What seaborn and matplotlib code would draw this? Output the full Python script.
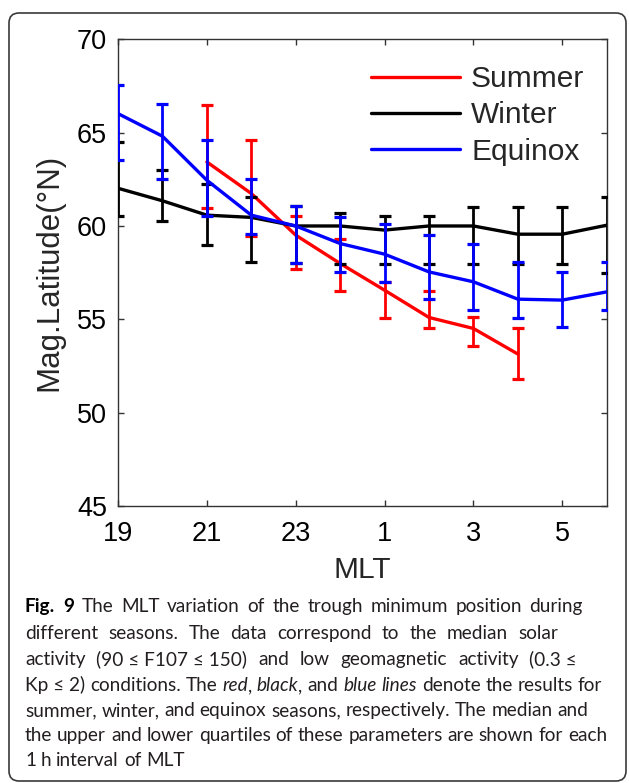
import numpy as np
import pandas as pd
import seaborn as sns
import matplotlib
matplotlib.use("Agg")
import matplotlib.pyplot as plt
from matplotlib.transforms import IdentityTransform
from matplotlib.patches import FancyBboxPatch
from matplotlib.lines import Line2D

nan = np.nan

# ---------------- data ----------------
mlt_hours = [19, 20, 21, 22, 23, 0, 1, 2, 3, 4, 5, 6]
tick_hours = [19, 21, 23, 1, 3, 5]
tick_labels = ["19", "21", "23", "1", "3", "5"]
seasons = ["Summer", "Winter", "Equinox"]
season_colors = ["#FF0000", "#000000", "#0000FF"]

summer_med = [nan, nan, 63.43, 61.74, 59.51, 57.99, 56.56, 55.10, 54.51, 53.14, nan, nan]
summer_q3 = [nan, nan, 66.47, 64.59, 60.54, 59.28, 57.00, 56.51, 55.10, 54.55, nan, nan]
summer_q1 = [nan, nan, 60.94, 59.45, 57.67, 56.51, 55.05, 54.55, 53.57, 51.78, nan, nan]

winter_med = [62.02, 61.35, 60.58, 60.46, 60.00, 60.00, 59.78, 60.00, 60.00, 59.56, 59.56, 60.04]
winter_q3 = [64.50, 62.99, 62.27, 61.53, 61.06, 60.72, 60.54, 60.54, 60.99, 60.99, 60.99, 61.54]
winter_q1 = [60.54, 60.26, 58.97, 58.05, 58.02, 57.99, 57.99, 57.99, 57.99, 57.99, 57.99, 57.49]

equinox_med = [66.02, 64.81, 62.45, 60.58, 60.00, 59.06, 58.49, 57.54, 57.01, 56.08, 56.03, 56.47]
equinox_q3 = [67.54, 66.56, 64.63, 62.51, 61.06, 60.49, 60.08, 59.54, 59.01, 58.05, 57.54, 58.08]
equinox_q1 = [63.52, 62.49, 60.54, 59.56, 58.02, 57.51, 57.01, 56.07, 55.49, 55.05, 54.60, 55.49]

caption_lines = [
    [[("Fig.", "b")], [("9", "b")], [("The", "n")], [("MLT", "n")], [("variation", "n")], [("of", "n")],
     [("the", "n")], [("trough", "n")], [("minimum", "n")], [("position", "n")], [("during", "n")]],
    [[("different", "n")], [("seasons.", "n")], [("The", "n")], [("data", "n")], [("correspond", "n")],
     [("to", "n")], [("the", "n")], [("median", "n")], [("solar", "n")]],
    [[("activity", "n")], [("(90 \u2264 F107 \u2264 150)", "n")], [("and", "n")], [("low", "n")],
     [("geomagnetic", "n")], [("activity", "n")], [("(0.3 \u2264", "n")]],
    [[("Kp \u2264 2)", "n")], [("conditions.", "n")], [("The", "n")], [("red", "i"), (",", "n")],
     [("black", "i"), (",", "n")], [("and", "n")], [("blue", "i")], [("lines", "i")], [("denote", "n")],
     [("the", "n")], [("results", "n")], [("for", "n")]],
    [[("summer,", "n")], [("winter,", "n")], [("and", "n")], [("equinox", "n")], [("seasons,", "n")],
     [("respectively.", "n")], [("The", "n")], [("median", "n")], [("and", "n")]],
    [[("the", "n")], [("upper", "n")], [("and", "n")], [("lower", "n")], [("quartiles", "n")], [("of", "n")],
     [("these", "n")], [("parameters", "n")], [("are", "n")], [("shown", "n")], [("for", "n")], [("each", "n")]],
    [[("1", "n")], [("h", "n")], [("interval", "n")], [("of", "n")], [("MLT", "n")]],
]
caption_baselines = [612, 639, 665, 691, 716, 741, 766]
caption_right = [583, 558, 577, 602, 588, 607, None]

# ---------------- style ----------------
sns.set_style("ticks")
plt.rcParams["font.family"] = ["Liberation Sans", "DejaVu Sans"]

W, H = 629, 783
fig = plt.figure(figsize=(W / 100, H / 100), dpi=100)
ax = fig.add_axes([118 / W, 1 - 506 / H, (606.7 - 118) / W, (506 - 39.3) / H])

x_pos = [(h - 19) % 24 for h in mlt_hours]
frames = []
for name, med, q1, q3 in [("Summer", summer_med, summer_q1, summer_q3),
                          ("Winter", winter_med, winter_q1, winter_q3),
                          ("Equinox", equinox_med, equinox_q1, equinox_q3)]:
    frames.append(pd.DataFrame({"x": x_pos, "median": med, "q1": q1, "q3": q3, "season": name}))
df = pd.concat(frames, ignore_index=True)

for z, (name, col) in enumerate(zip(seasons, season_colors)):
    sub = df[df["season"] == name].dropna()
    sns.lineplot(data=sub, x="x", y="median", color=col, lw=2.4, estimator=None,
                 ax=ax, zorder=3 + z, clip_on=True)
    ax.errorbar(sub["x"], sub["median"],
                yerr=[sub["median"] - sub["q1"], sub["q3"] - sub["median"]],
                fmt="none", ecolor=col, elinewidth=2.0, capsize=4.3, capthick=2.3,
                zorder=3 + z)

ax.set_xlim(0, 11)
ax.set_ylim(45, 70)
ax.set_xticks([(h - 19) % 24 for h in tick_hours])
ax.set_xticklabels(tick_labels)
ax.set_yticks([45, 50, 55, 60, 65, 70])
ax.tick_params(direction="in", length=4, width=1, top=True, right=True,
               labelsize=19.5, colors="#333333", labelcolor="black")
ax.tick_params(axis="y", pad=8)
ax.tick_params(axis="x", pad=11)
for s in ax.spines.values():
    s.set_color("#333333")
    s.set_linewidth(1.0)
ax.set_xlabel("MLT", fontsize=21.5, labelpad=6)
ax.set_ylabel("Mag.Latitude(\u00b0N)", fontsize=22.5, labelpad=9)

handles = [Line2D([], [], color=c, lw=2.4) for c in season_colors]
ax.legend(handles, seasons, loc="upper left", bbox_to_anchor=((371 - 118) / 488.7, (506 - 65) / 466.7),
          frameon=False, fontsize=21.5, handlelength=2.98, handletextpad=0.37,
          borderpad=0, borderaxespad=0, labelspacing=0.28)

# ---------------- caption ----------------
cap_family = ["Lato", "DejaVu Sans"]
cap_color = "#231f20"
renderer = fig.canvas.get_renderer()


def make_text(txt, st, fs):
    return fig.text(0, 0, txt, transform=IdentityTransform(), fontsize=fs,
                    family=cap_family, color="black" if st == "b" else cap_color,
                    fontweight="bold" if st == "b" else "normal",
                    fontstyle="italic" if st == "i" else "normal",
                    ha="left", va="baseline")


def width_of(txt, st, fs):
    t = make_text(txt, st, fs)
    w = t.get_window_extent(renderer).width
    t.remove()
    return w


def space_w(fs):
    return width_of("x x", "n", fs) - width_of("xx", "n", fs)


# calibrate font size from the naturally spaced line 6
ref_line = caption_lines[5]
fs0 = 10
nat = sum(width_of(t, s, fs0) for w in ref_line for t, s in w) + (len(ref_line) - 1) * space_w(fs0)
cap_fs = fs0 * (607 - 25) / nat

x_left = 25
for words, yb, xr in zip(caption_lines, caption_baselines, caption_right):
    widths = [[width_of(t, s, cap_fs) for t, s in w] for w in words]
    total = sum(sum(w) for w in widths)
    if xr is None:
        gap = space_w(cap_fs)
    else:
        gap = (xr - x_left - total) / (len(words) - 1)
    x = x_left
    for w, ws in zip(words, widths):
        for (t, s), wi in zip(w, ws):
            tt = make_text(t, s, cap_fs)
            tt.set_position((x, H - yb))
            x += wi
        x += gap

# rounded frame around the figure
frame = FancyBboxPatch((9, H - 781), 626 - 9, 781 - 13,
                       boxstyle="round,pad=0,rounding_size=10",
                       transform=IdentityTransform(), fill=False,
                       ec="#3a3a3a", lw=1.2)
fig.add_artist(frame)

fig.savefig("out.png", dpi=100)
